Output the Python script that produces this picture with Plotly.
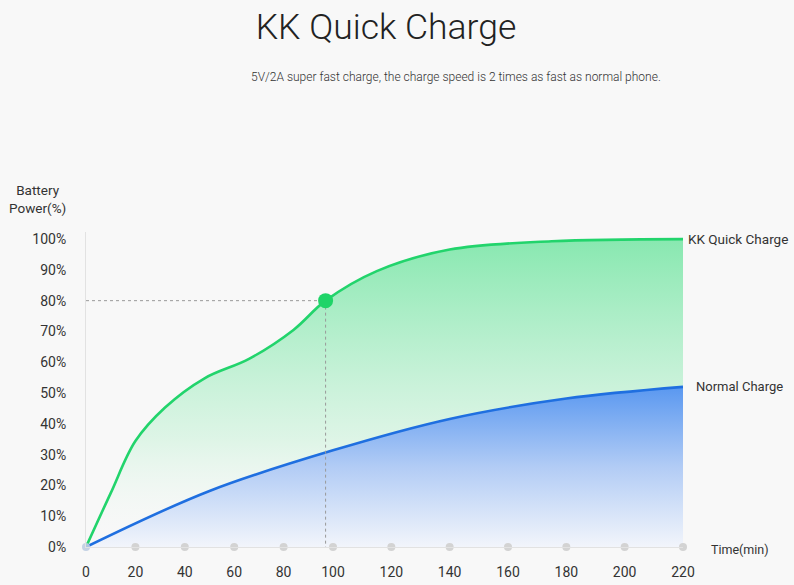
import numpy as np
import plotly.graph_objects as go

# ---- data ----
x_ticks = [0, 20, 40, 60, 80, 100, 120, 140, 160, 180, 200, 220]
x_tick_labels = [str(v) for v in x_ticks]
y_ticks = [0, 10, 20, 30, 40, 50, 60, 70, 80, 90, 100]
y_tick_labels = [f"{v}%" for v in y_ticks]

kk_time = [0, 10, 20, 32, 48, 66, 84, 97, 115, 140, 175, 220]
kk_power = [0, 17.5, 34.4, 45.3, 54.8, 61.1, 70.5, 80, 89.6, 96.6, 99.3, 100]

normal_time = [0, 50, 100, 140, 180, 220]
normal_power = [0, 18.2, 31.4, 41.6, 48.2, 52]

mark_time = [97]
mark_power = [80]


# the reference's time axis is stretched unevenly (0-100 narrower than 100-220)
def warp(t):
    t = np.asarray(t, dtype=float)
    return np.where(t <= 100, t * 2.47, 247 + (t - 100) * (350 / 120))


GREEN = "#22d46c"
BLUE = "#1f6fe0"
TXT = "#333333"
FONT = "Roboto"

fig = go.Figure()

# green fill + line
fig.add_trace(go.Scatter(
    x=warp(kk_time), y=kk_power, mode="lines",
    line=dict(color=GREEN, width=2.6, shape="spline", smoothing=1.0),
    fill="tozeroy",
    fillgradient=dict(type="vertical", start=0, stop=100,
                      colorscale=[[0, "rgba(248,248,248,0)"], [0.35, "rgba(215,244,226,0.8)"],
                                  [1, "rgba(136,232,176,1)"]]),
    hoverinfo="skip", showlegend=False,
))

# blue fill + line
fig.add_trace(go.Scatter(
    x=warp(normal_time), y=normal_power, mode="lines",
    line=dict(color=BLUE, width=2.6, shape="spline", smoothing=1.0),
    fill="tozeroy",
    fillgradient=dict(type="vertical", start=0, stop=52,
                      colorscale=[[0, "rgba(242,245,251,1)"], [0.5, "rgba(178,204,245,1)"],
                                  [1, "rgba(90,152,240,1)"]]),
    hoverinfo="skip", showlegend=False,
))

# tick dots on x axis
fig.add_trace(go.Scatter(
    x=warp(x_ticks[1:]), y=[0] * (len(x_ticks) - 1), mode="markers",
    marker=dict(color="#d3d3d3", size=8), cliponaxis=False,
    hoverinfo="skip", showlegend=False,
))
fig.add_trace(go.Scatter(
    x=warp(x_ticks[:1]), y=[0], mode="markers",
    marker=dict(color="rgba(190,205,225,0.9)", size=8), cliponaxis=False,
    hoverinfo="skip", showlegend=False,
))

# dotted guide lines
mx = float(warp(mark_time)[0])
fig.add_trace(go.Scatter(
    x=[0, mx, None, mx, mx], y=[mark_power[0], mark_power[0], None, mark_power[0], 0],
    mode="lines", line=dict(color="#9a9a9a", width=1, dash="dot"),
    hoverinfo="skip", showlegend=False,
))

# marker
fig.add_trace(go.Scatter(
    x=warp(mark_time), y=mark_power, mode="markers",
    marker=dict(color="#1fd468", size=15), cliponaxis=False,
    hoverinfo="skip", showlegend=False,
))

x_end = float(warp([220])[0])
annotations = [
    dict(x=x_end, y=kk_power[-1], xref="x", yref="y", text="KK Quick Charge",
         xanchor="left", yanchor="middle", xshift=3, showarrow=False,
         font=dict(family=FONT, size=13.5, color=TXT)),
    dict(x=x_end, y=normal_power[-1], xref="x", yref="y", text="Normal Charge",
         xanchor="left", yanchor="middle", xshift=11, showarrow=False,
         font=dict(family=FONT, size=13, color=TXT)),
    dict(x=x_end, y=0, xref="x", yref="y", text="Time(min)",
         xanchor="left", yanchor="middle", xshift=26, yshift=-2, showarrow=False,
         font=dict(family=FONT, size=12.5, color=TXT)),
    dict(x=0, y=1 + (232 - 199) / 315, xref="paper", yref="paper", text="Battery<br>Power(%)",
         xanchor="center", yanchor="middle", xshift=-49, showarrow=False, align="center",
         font=dict(family=FONT, size=13.5, color=TXT)),
    dict(x=(456 - 86) / 597, y=1 + (232 - 77) / 315, xref="paper", yref="paper",
         text="5V/2A super fast charge, the charge speed is 2 times as fast as normal phone.",
         xanchor="center", yanchor="middle", showarrow=False,
         font=dict(family=FONT, size=12, color=TXT, weight=300)),
]

fig.update_layout(
    width=794, height=585,
    margin=dict(l=86, r=111, t=232, b=38, autoexpand=False),
    paper_bgcolor="#f8f8f8", plot_bgcolor="#f8f8f8",
    title=dict(text="KK Quick Charge", x=386 / 794, xref="container", xanchor="center",
               y=1 - 27 / 585, yref="container", yanchor="middle",
               font=dict(family=FONT, size=35.5, color="#222222", weight=300)),
    annotations=annotations,
    xaxis=dict(range=[0, 597], tickvals=warp(x_ticks), ticktext=x_tick_labels,
               showgrid=False, zeroline=False, showline=True, linecolor="#e2e2e2", linewidth=1,
               ticks="", ticklabelstandoff=12, automargin=False,
               tickfont=dict(family=FONT, size=14, color=TXT), fixedrange=True),
    yaxis=dict(range=[0, 102.3], tickvals=y_ticks, ticktext=y_tick_labels,
               showgrid=False, zeroline=False, showline=True, linecolor="#e2e2e2", linewidth=1,
               ticks="", ticklabelstandoff=16, automargin=False,
               tickfont=dict(family=FONT, size=14, color=TXT), fixedrange=True),
    showlegend=False,
)

fig.write_html("out.html")
